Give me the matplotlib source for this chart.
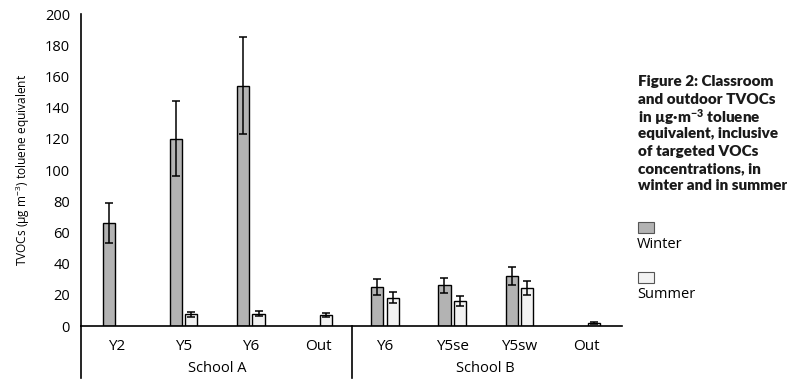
import matplotlib

matplotlib.use("Agg")
import matplotlib.pyplot as plt
import numpy as np
from matplotlib.patches import Rectangle
from matplotlib.transforms import blended_transform_factory

# Values (µg m-3 toluene equivalent); nan = no bar
categories = ["Y2", "Y5", "Y6", "Out", "Y6", "Y5se", "Y5sw", "Out"]
schools = ["School A", "School B"]
winter = [66, 120, 154, np.nan, 25, 26, 32, np.nan]
winter_err = [13, 24, 31, np.nan, 5, 5, 6, np.nan]
summer = [np.nan, 7.5, 8, 7, 18, 16, 24.5, 2]
summer_err = [np.nan, 1.5, 1.5, 1.5, 3.5, 3, 4.5, 0.4]

WINTER_C, SUMMER_C = "#b3b3b3", "#f2f2f2"
plt.rcParams["font.family"] = ["Open Sans", "DejaVu Sans"]
plt.rcParams["mathtext.default"] = "regular"

fig = plt.figure(figsize=(7.87, 3.88), dpi=100)
ax = fig.add_axes([81 / 787, 62 / 388, 541 / 787, 312 / 388])

x = np.arange(len(categories))
w, off = 0.18, 0.115
err_kw = dict(fmt="none", ecolor="black", elinewidth=1.1, capsize=2.6, capthick=1.1)
ax.bar(x - off, winter, w, color=WINTER_C, edgecolor="black", lw=1)
ax.errorbar(x - off, winter, yerr=winter_err, **err_kw)
ax.bar(x + off, summer, w, color=SUMMER_C, edgecolor="black", lw=1)
ax.errorbar(x + off, summer, yerr=summer_err, **err_kw)

ax.set_xlim(-0.53, len(categories) - 0.47)
ax.set_ylim(0, 200)
ax.set_yticks(range(0, 201, 20))
ax.tick_params(axis="y", length=0, labelsize=10.5, pad=8)
ax.tick_params(axis="x", length=0, labelsize=11, pad=9)
ax.set_xticks(x)
ax.set_xticklabels(categories)
for s in ["top", "right"]:
    ax.spines[s].set_visible(False)
ax.spines["left"].set_linewidth(1.2)
ax.spines["bottom"].set_linewidth(1.2)

# Group labels and separators below the axis
tr = blended_transform_factory(ax.transData, ax.transAxes)
for xs in [-0.53, 3.5]:
    ax.plot([xs, xs], [0, -52 / 312], transform=tr, color="black", lw=1.2, clip_on=False)
for i, name in enumerate(schools):
    ax.text(1.5 + 4 * i, -42 / 312, name, transform=tr, ha="center", va="center", fontsize=10.5)

ax.set_ylabel("TVOCs (µg m$^{-3}$) toluene equivalent", fontsize=8.6)
ax.yaxis.set_label_coords(-49 / 541, 0.5)

# Caption
caption = ["Figure 2: Classroom", "and outdoor TVOCs", "in µg·m$^{-3}$ toluene",
           "equivalent, inclusive", "of targeted VOCs", "concentrations, in",
           "winter and in summer"]
for i, line in enumerate(caption):
    fig.text(638 / 787, 1 - (82 + 17.3 * i) / 388, line, fontsize=11, fontweight="heavy",
             family=["Lato", "DejaVu Sans"], color="#1a1a1a", va="center", ha="left")

# Legend
for y0, c, lab, ly in [(222, WINTER_C, "Winter", 245), (272, SUMMER_C, "Summer", 295)]:
    fig.patches.append(Rectangle((638 / 787, 1 - (y0 + 11) / 388), 16 / 787, 11 / 388,
                                 facecolor=c, edgecolor="#555555", lw=0.8,
                                 transform=fig.transFigure))
    fig.text(637 / 787, 1 - ly / 388, lab, fontsize=10.5, va="center", ha="left")

fig.savefig("out.png", dpi=100)
